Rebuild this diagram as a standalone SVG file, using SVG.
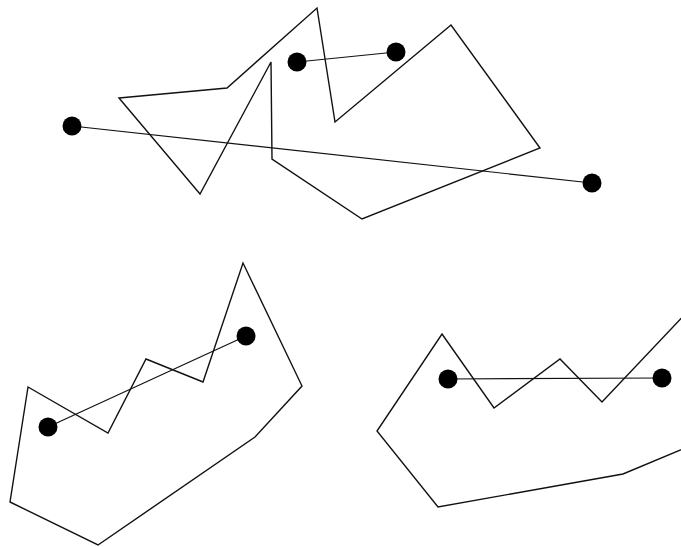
<svg xmlns="http://www.w3.org/2000/svg" width="681" height="547" viewBox="0 0 681 547">
<style>
.poly{fill:none;stroke:#111;stroke-width:1.4;stroke-linejoin:miter}
.seg{fill:none;stroke:#111;stroke-width:1.2}
.pt{fill:#000}
</style>
<rect width="681" height="547" fill="#fff"/>
<g id="figure-top">
<polygon class="poly" points="119,98 227,88 317,8 335,122 451,25 540,148 362,219 272,159 271,62 200,194"/>
<g id="segments-top">
<line class="seg" x1="72" y1="126" x2="592" y2="183"/>
<line class="seg" x1="297" y1="62" x2="396" y2="52"/>
</g>
<circle class="pt" cx="72" cy="126" r="9.5"/>
<circle class="pt" cx="592" cy="183" r="9.5"/>
<circle class="pt" cx="297" cy="62" r="9.5"/>
<circle class="pt" cx="396" cy="52" r="9.5"/>
</g>
<g id="figure-bottom-left">
<polygon class="poly" points="28,387 108,433 146,359 203,382 243,263 302,386 255,437 98,545 10,502"/>
<g id="segment-bottom-left">
<line class="seg" x1="48" y1="427" x2="246" y2="336"/>
</g>
<circle class="pt" cx="48" cy="427" r="9.5"/>
<circle class="pt" cx="246" cy="336" r="9.5"/>
</g>
<g id="figure-bottom-right">
<polygon class="poly" points="442,334 494,408 560,359 602,402 690,309 690,446 623,474 438,507 377,431"/>
<g id="segment-bottom-right">
<line class="seg" x1="448" y1="379" x2="662" y2="378"/>
</g>
<circle class="pt" cx="448" cy="379" r="9.5"/>
<circle class="pt" cx="662" cy="378" r="9.5"/>
</g>
</svg>
